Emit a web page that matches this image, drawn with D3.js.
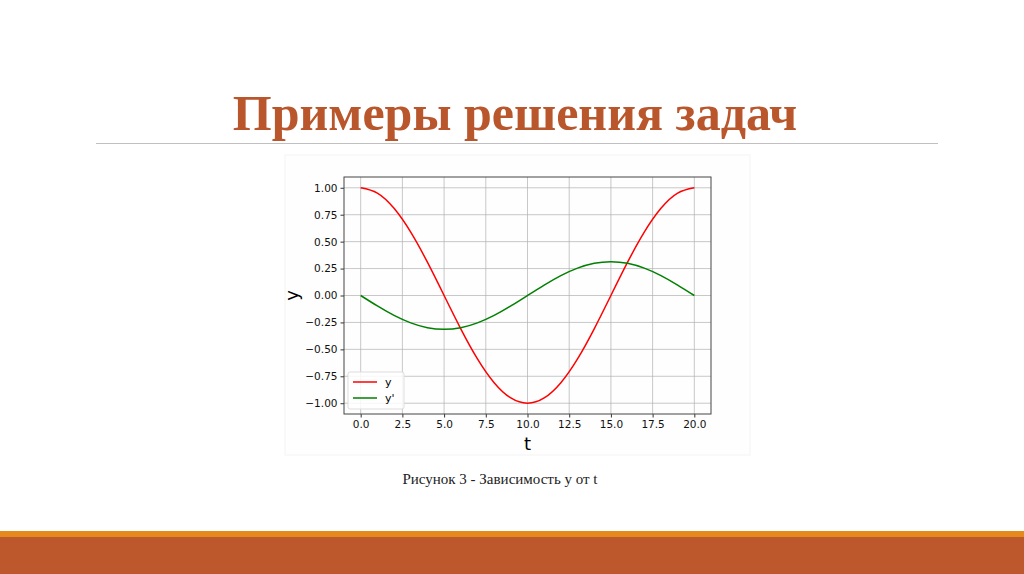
<!DOCTYPE html>
<html>
<head>
<meta charset="utf-8">
<script src="https://cdn.jsdelivr.net/npm/d3@7"></script>
<style>
  body { margin: 0; background: #fff; }
  svg { display: block; }
</style>
</head>
<body>
<svg width="1024" height="574"></svg>
<script>
// values, t step = 1
const tValues = [0, 1, 2, 3, 4, 5, 6, 7, 8, 9, 10, 11, 12, 13, 14, 15, 16, 17, 18, 19, 20];
const yValues = [1.000, 0.951, 0.809, 0.588, 0.309, 0.000, -0.309, -0.588, -0.809, -0.951, -1.000,
                 -0.951, -0.809, -0.588, -0.309, 0.000, 0.309, 0.588, 0.809, 0.951, 1.000];
const dyValues = [0.000, -0.097, -0.185, -0.254, -0.299, -0.314, -0.299, -0.254, -0.185, -0.097, 0.000,
                  0.097, 0.185, 0.254, 0.299, 0.314, 0.299, 0.254, 0.185, 0.097, 0.000];
const xTicks = [0, 2.5, 5, 7.5, 10, 12.5, 15, 17.5, 20];
const yTicks = [-1, -0.75, -0.5, -0.25, 0, 0.25, 0.5, 0.75, 1];
const seriesNames = ['y', 'y\''];
const seriesColors = ['#ff0000', '#008000'];

const svg = d3.select('svg');

// slide title
svg.append('text').
attr('x', 515).attr('y', 130).
attr('text-anchor', 'middle').
attr('font-family', 'Liberation Serif, serif').
attr('font-weight', 'bold').
attr('font-size', 50).
attr('fill', '#b9562b').
text('Примеры решения задач');

svg.append('line').
attr('x1', 96).attr('x2', 938).attr('y1', 143.5).attr('y2', 143.5).
attr('stroke', '#c0c0c0').attr('stroke-width', 1);

// picture background
svg.append('rect').
attr('x', 285).attr('y', 155).attr('width', 465).attr('height', 300).
attr('fill', '#fefefe').attr('stroke', '#f4f4f4');

// plot area
const plot = { left: 344, top: 177, right: 711, bottom: 414 };

const x = d3.scaleLinear().domain([-1, 21]).range([plot.left, plot.right]);
const y = d3.scaleLinear().domain([-1.1, 1.1]).range([plot.bottom, plot.top]);

const g = svg.append('g').attr('font-family', 'DejaVu Sans, sans-serif');

// grid
g.append('g').
selectAll('line').
data(xTicks).
enter().append('line').
attr('x1', d => x(d)).attr('x2', d => x(d)).
attr('y1', plot.top).attr('y2', plot.bottom).
attr('stroke', '#b0b0b0').attr('stroke-opacity', 0.7);

g.append('g').
selectAll('line').
data(yTicks).
enter().append('line').
attr('y1', d => y(d)).attr('y2', d => y(d)).
attr('x1', plot.left).attr('x2', plot.right).
attr('stroke', '#b0b0b0').attr('stroke-opacity', 0.7);

// axes
const fmtX = d3.format('.1f');
const fmtY = d3.format('.2f');

const xAxis = d3.axisBottom(x).
tickValues(xTicks).
tickSize(3.5).
tickPadding(3).
tickFormat(d => fmtX(d));

const yAxis = d3.axisLeft(y).
tickValues(yTicks).
tickSize(3.5).
tickPadding(3).
tickFormat(d => fmtY(d).replace('-', '\u2212'));

g.append('g').
attr('class', 'axis x').
attr('transform', `translate(0, ${plot.bottom})`).
call(xAxis).
call(a => a.select('.domain').remove()).
selectAll('text').
attr('font-family', 'DejaVu Sans, sans-serif').
attr('font-size', 10.5).
attr('fill', '#111');

g.append('g').
attr('class', 'axis y').
attr('transform', `translate(${plot.left}, 0)`).
call(yAxis).
call(a => a.select('.domain').remove()).
selectAll('text').
attr('font-family', 'DejaVu Sans, sans-serif').
attr('font-size', 10.5).
attr('fill', '#111');

g.selectAll('.tick line').attr('stroke', '#000').attr('stroke-width', 0.8);

// frame
g.append('rect').
attr('x', plot.left).attr('y', plot.top).
attr('width', plot.right - plot.left).attr('height', plot.bottom - plot.top).
attr('fill', 'none').attr('stroke', '#444').attr('stroke-width', 1);

// axis labels
g.append('text').
attr('x', x(10)).attr('y', 450).
attr('text-anchor', 'middle').
attr('font-size', 18).
text('t');

g.append('text').
attr('transform', `translate(298, ${y(0)}) rotate(-90)`).
attr('text-anchor', 'middle').
attr('font-size', 18).
text('y');

// lines
const series = [yValues, dyValues];
const line = d3.line().
x((d, i) => x(tValues[i])).
y(d => y(d)).
curve(d3.curveNatural);

g.append('g').
selectAll('path').
data(series).
enter().append('path').
attr('d', d => line(d)).
attr('fill', 'none').
attr('stroke', (d, i) => seriesColors[i]).
attr('stroke-width', 1.5);

// legend
const legend = g.append('g').attr('transform', 'translate(348, 372)');
legend.append('rect').
attr('width', 56).attr('height', 37).attr('rx', 2).
attr('fill', '#fff').attr('fill-opacity', 0.85).
attr('stroke', '#dddddd');

const items = legend.selectAll('.item').
data(seriesNames).
enter().append('g').
attr('class', 'item').
attr('transform', (d, i) => `translate(0, ${10 + i * 16})`);

items.append('line').
attr('x1', 5).attr('x2', 29).
attr('stroke', (d, i) => seriesColors[i]).
attr('stroke-width', 1.5);

items.append('text').
attr('x', 37).attr('y', 3.5).
attr('font-size', 11).
text(d => d);

// caption
svg.append('text').
attr('x', 500).attr('y', 484).
attr('text-anchor', 'middle').
attr('font-family', 'Liberation Serif, serif').
attr('font-size', 15).
attr('fill', '#222').
text('Рисунок 3 - Зависимость y от t');

// bottom band
svg.append('rect').
attr('x', 0).attr('y', 531).attr('width', 1024).attr('height', 6).
attr('fill', '#e5891c');
svg.append('rect').
attr('x', 0).attr('y', 537).attr('width', 1024).attr('height', 37).
attr('fill', '#bd582c');
</script>
</body>
</html>
